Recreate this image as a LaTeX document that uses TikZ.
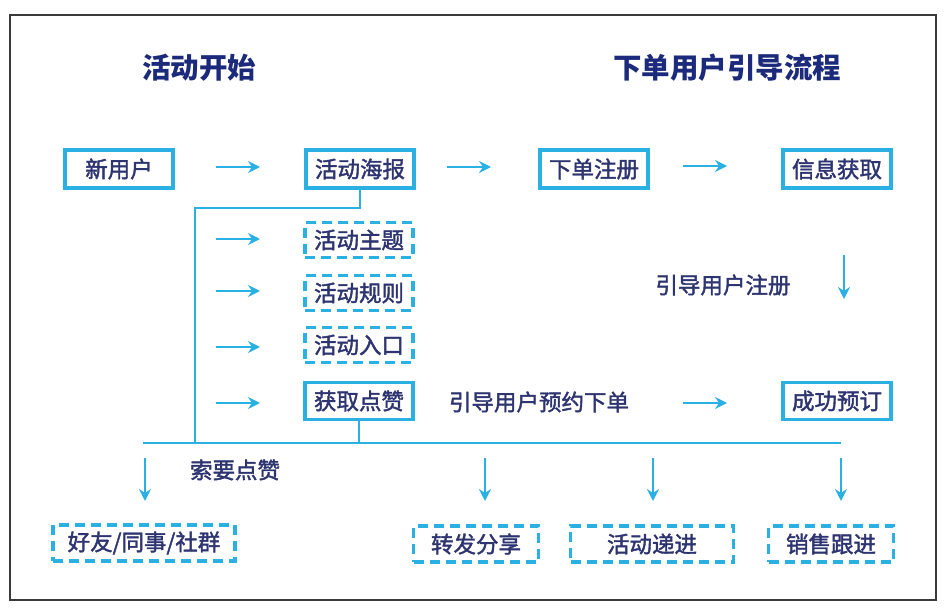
\documentclass[tikz,border=0pt]{standalone}
\usepackage{fontspec}
\newfontfamily\cjk{Noto Sans CJK SC}
\newfontfamily\cjkm[FakeBold=1.8]{Noto Sans CJK SC}
\usetikzlibrary{arrows.meta}
\definecolor{lineblue}{HTML}{2BB0E3}
\definecolor{txt}{HTML}{2D3470}
\definecolor{ttl}{HTML}{1B2A7A}
\definecolor{framegray}{HTML}{3A3A3A}
\begin{document}
\begin{tikzpicture}[x=1pt,y=-1pt,
  solidbox/.style={draw=lineblue, line width=3.2pt, minimum width=108pt, minimum height=38pt, inner sep=0pt, font=\cjkm\fontsize{22.5}{22.5}\selectfont, text=txt},
  dashbox/.style={solidbox, dash pattern=on 10pt off 6pt, minimum height=36pt},
  flowarrow/.style={draw=lineblue, line width=2.8pt, -{Stealth[length=12pt,width=12pt,inset=4pt]}},
  connline/.style={draw=lineblue, line width=2.8pt},
  titletext/.style={font=\cjk\bfseries\fontsize{28.5}{28.5}\selectfont, text=ttl},
  labeltext/.style={font=\cjkm\fontsize{22.5}{22.5}\selectfont, text=txt}]
\useasboundingbox (0,0) rectangle (945,615);
\draw[framegray, line width=2.5pt] (10,15) rectangle (936,600);

% titles
\node[titletext] (t1) at (199,68) {活动开始};
\node[titletext] (t2) at (727,68) {下单用户引导流程};

% boxes
\node[solidbox] (xin) at (119,169) {新用户};
\node[solidbox] (hb) at (360,169) {活动海报};
\node[solidbox] (xd) at (594,169) {下单注册};
\node[solidbox] (xx) at (837,169) {信息获取};
\node[dashbox, minimum height=35pt] (zt) at (359,240) {活动主题};
\node[dashbox, minimum height=35pt] (gz) at (359,293) {活动规则};
\node[dashbox, minimum height=35pt] (rk) at (359,345) {活动入口};
\node[solidbox, minimum height=37pt] (dz) at (359,401) {获取点赞};
\node[solidbox, minimum height=37pt] (cg) at (837,401) {成功预订};
\node[dashbox, minimum width=182pt] (hy) at (144,543) {好友/同事/社群};
\node[dashbox, minimum width=125pt] (zf) at (476,544) {转发分享};
\node[dashbox, minimum width=163pt] (dj) at (652,544) {活动递进};
\node[dashbox, minimum width=125pt] (xs) at (831,544) {销售跟进};

% labels
\node[labeltext] (l1) at (723,285) {引导用户注册};
\node[labeltext] (l2) at (539,402) {引导用户预约下单};
\node[labeltext] (l3) at (235,470) {索要点赞};

% arrow end points
\coordinate (a1s) at (216,167); \coordinate (a1e) at (260,167);
\coordinate (a2s) at (447,167); \coordinate (a2e) at (491,167);
\coordinate (a3s) at (683,166); \coordinate (a3e) at (727,166);
\coordinate (v1s) at (844,255); \coordinate (v1e) at (844,299);
\coordinate (a4s) at (683,403); \coordinate (a4e) at (727,403);
\coordinate (b1s) at (216,239); \coordinate (b1e) at (260,239);
\coordinate (b2s) at (216,291); \coordinate (b2e) at (260,291);
\coordinate (b3s) at (216,347); \coordinate (b3e) at (260,347);
\coordinate (b4s) at (216,403); \coordinate (b4e) at (260,403);
\coordinate (d1s) at (145,458); \coordinate (d1e) at (145,501);
\coordinate (d2s) at (485,458); \coordinate (d2e) at (485,501);
\coordinate (d3s) at (653,458); \coordinate (d3e) at (653,501);
\coordinate (d4s) at (841,458); \coordinate (d4e) at (841,501);

\foreach \p in {a1,a2,a3,v1,a4,b1,b2,b3,b4,d1,d2,d3,d4}
  \draw[flowarrow] (\p s) -- (\p e);

% connectors
\coordinate (j1) at (195,208);
\coordinate (j2) at (195,443);
\coordinate (busL) at (143,443);
\coordinate (busR) at (841,443);
\draw[connline] (hb.south) |- (j1) -- (j2);
\draw[connline] (busL) -- (busR);
\draw[connline] (dz.south) -- (dz.south |- busL);
\end{tikzpicture}
\end{document}
